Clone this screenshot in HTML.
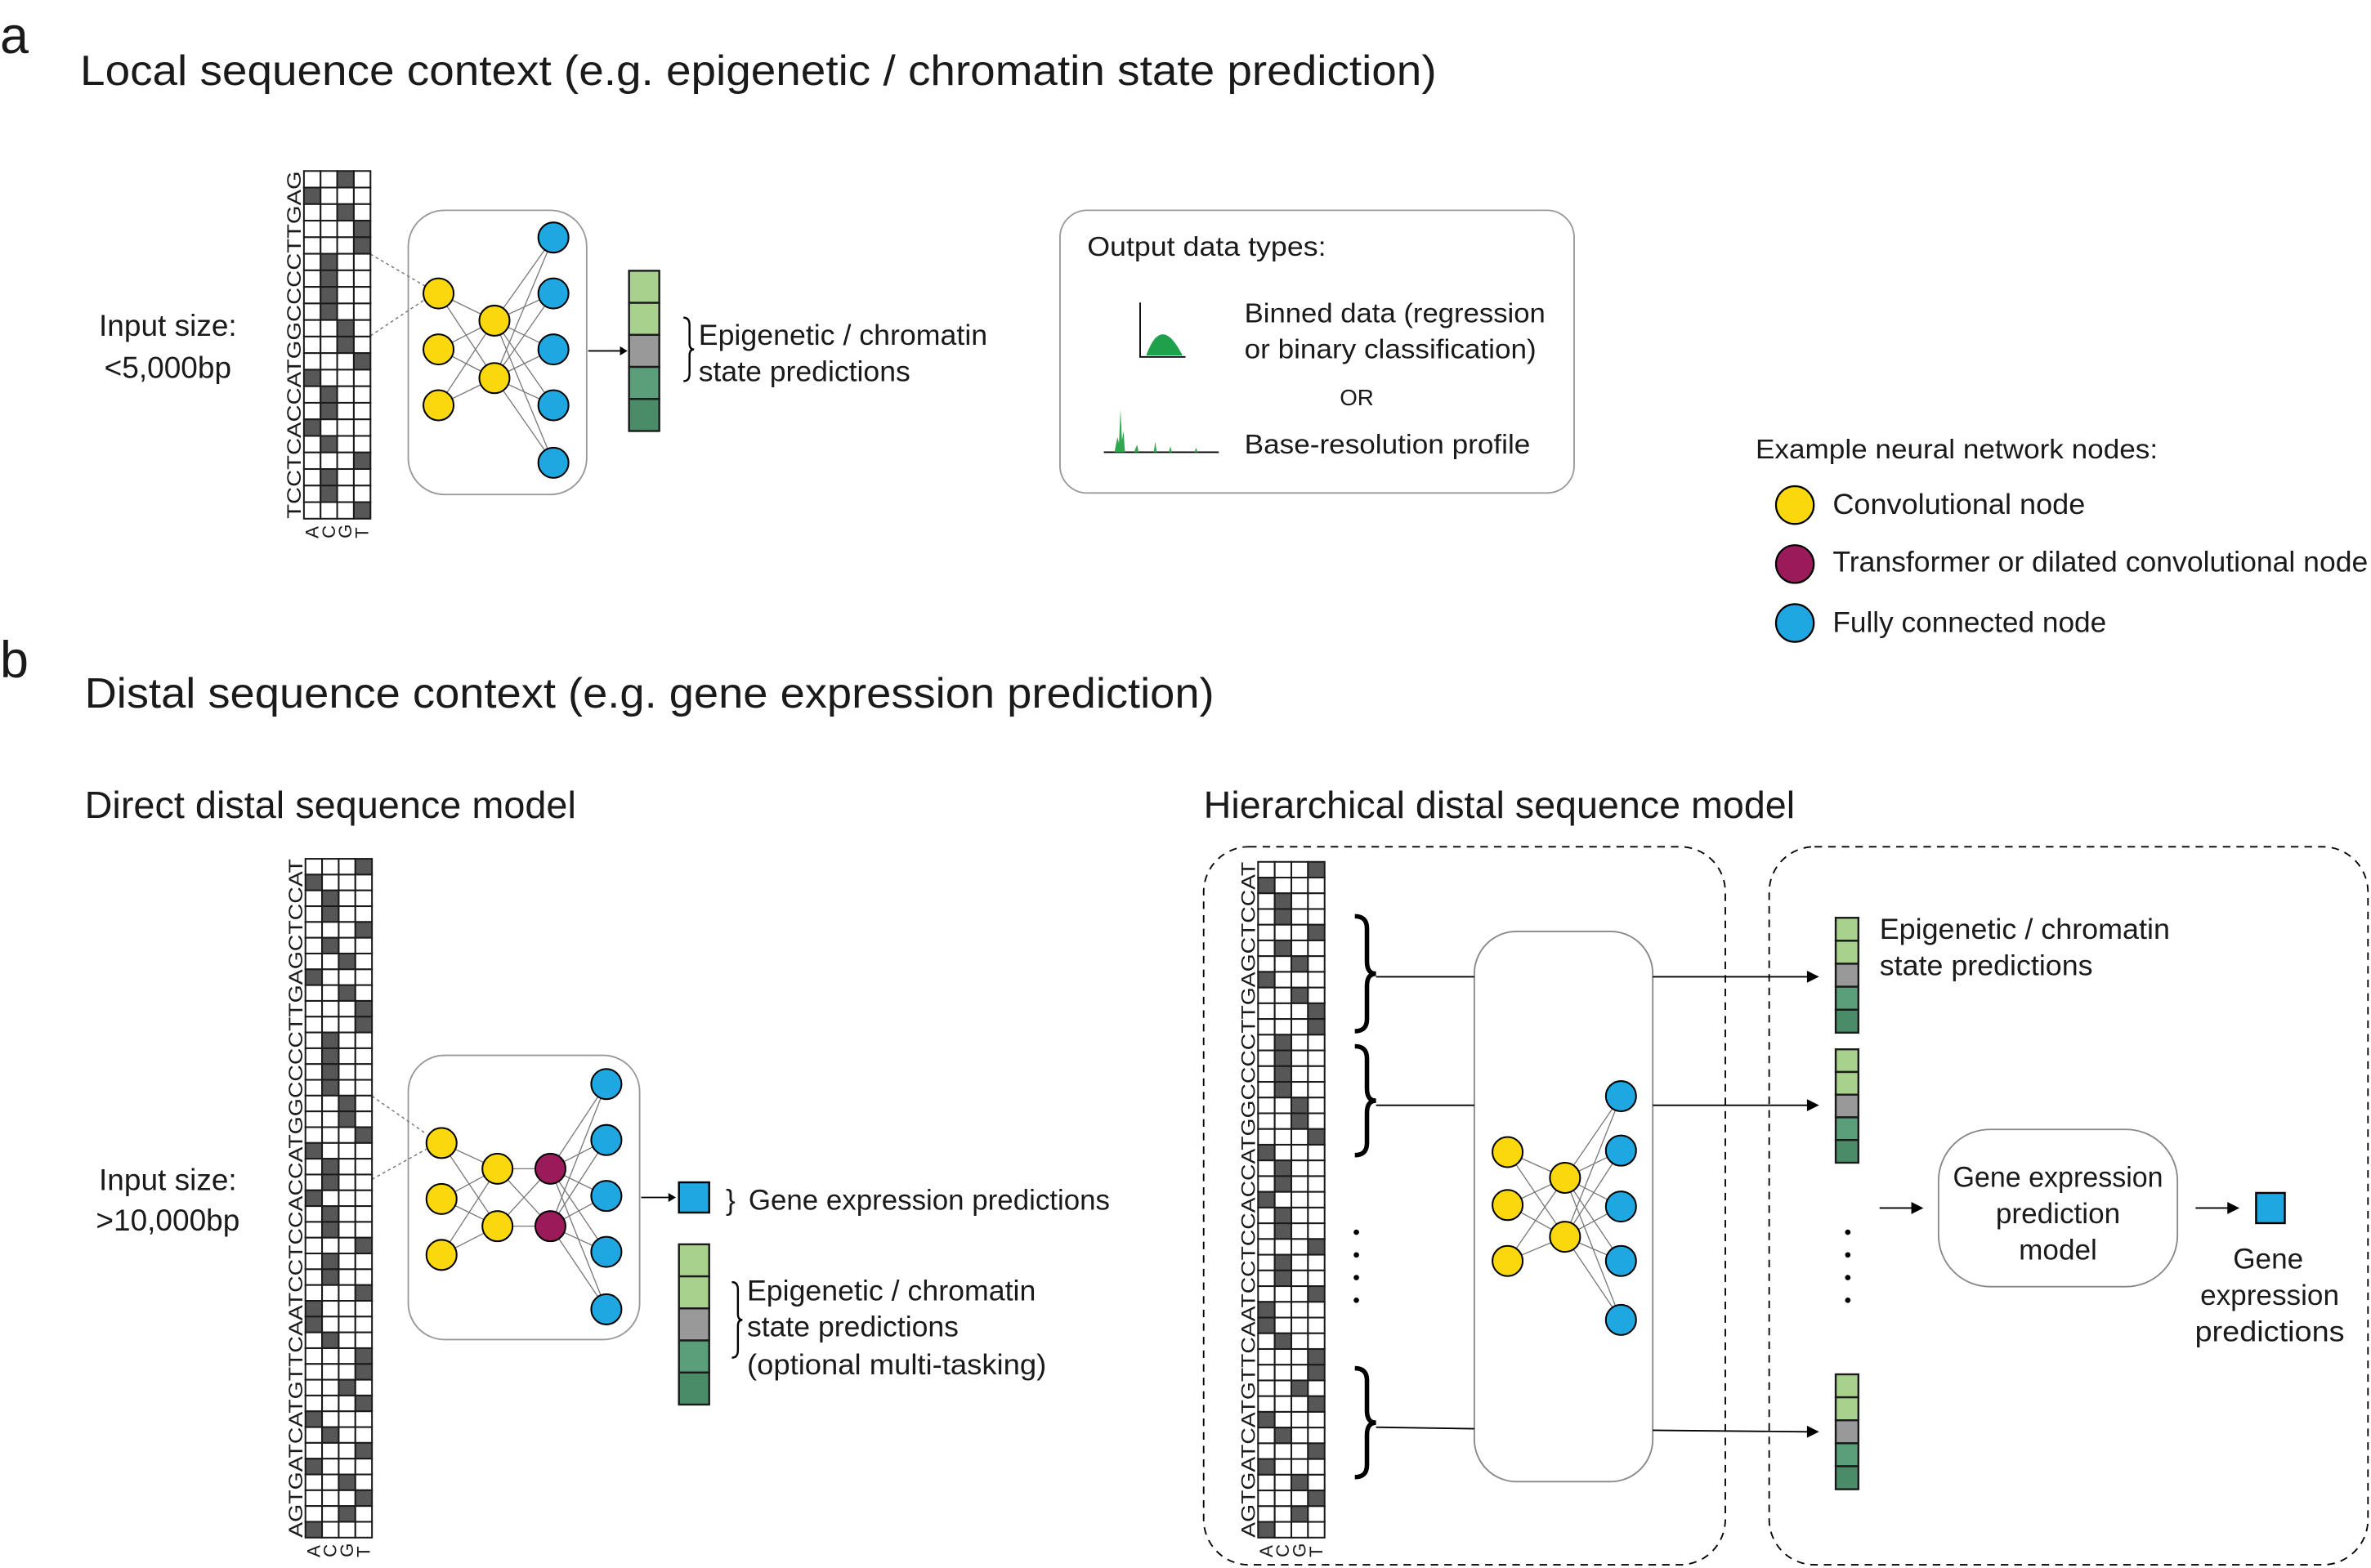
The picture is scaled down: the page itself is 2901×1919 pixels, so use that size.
<!DOCTYPE html>
<html><head><meta charset="utf-8"><style>
html,body{margin:0;padding:0;background:#fff}
svg{display:block}
text{font-family:"Liberation Sans",sans-serif;fill:#1a1a1a}
</style></head><body>
<svg id="s" width="2901" height="1919" viewBox="0 0 1568 1037" xmlns="http://www.w3.org/2000/svg">
<rect width="1568" height="1037" fill="#fff"/>
<!-- Titles -->
<text x="0" y="35" font-size="34">a</text>
<text x="53" y="56" font-size="28" textLength="897" lengthAdjust="spacingAndGlyphs">Local sequence context (e.g. epigenetic / chromatin state prediction)</text>
<text x="0" y="448" font-size="34">b</text>
<text x="56" y="468" font-size="28" textLength="747" lengthAdjust="spacingAndGlyphs">Distal sequence context (e.g. gene expression prediction)</text>
<text x="56" y="541" font-size="25" textLength="325" lengthAdjust="spacingAndGlyphs">Direct distal sequence model</text>
<text x="796" y="541" font-size="25" textLength="391" lengthAdjust="spacingAndGlyphs">Hierarchical distal sequence model</text>

<text x="111" y="222" font-size="20" text-anchor="middle">Input size:</text>
<text x="111" y="250" font-size="20" text-anchor="middle">&lt;5,000bp</text>
<text x="111" y="787" font-size="20" text-anchor="middle">Input size:</text>
<text x="111" y="814" font-size="20" text-anchor="middle">&gt;10,000bp</text>

<g id="grids"></g>
<g id="nets"></g>

<!-- panel a boxes -->
<rect x="270" y="139" width="118" height="188" rx="24" fill="none" stroke="#999" stroke-width="1"/>
<line x1="245" y1="168" x2="281" y2="189" stroke="#777" stroke-dasharray="2,2" stroke-width="0.8"/>
<line x1="245" y1="222" x2="281" y2="198" stroke="#777" stroke-dasharray="2,2" stroke-width="0.8"/>
<line x1="389" y1="232" x2="410" y2="232" stroke="#000" stroke-width="1"/>
<polygon points="410,229 415,232 410,235" fill="#000"/>
<g id="bara"></g>
<path d="M452,210 q4,0 4,5 v12 q0,4 3,4 q-3,0 -3,4 v12 q0,5 -4,5" fill="none" stroke="#000" stroke-width="1.3"/>
<text x="462" y="228" font-size="19" textLength="191" lengthAdjust="spacingAndGlyphs">Epigenetic / chromatin</text>
<text x="462" y="252" font-size="19" textLength="140" lengthAdjust="spacingAndGlyphs">state predictions</text>

<rect x="701" y="139" width="340" height="187" rx="18" fill="none" stroke="#999" stroke-width="1"/>
<text x="719" y="169" font-size="18" textLength="158" lengthAdjust="spacingAndGlyphs">Output data types:</text>
<text x="823" y="213" font-size="18" textLength="199" lengthAdjust="spacingAndGlyphs">Binned data (regression</text>
<text x="823" y="237" font-size="18" textLength="193" lengthAdjust="spacingAndGlyphs">or binary classification)</text>
<text x="886" y="268" font-size="15">OR</text>
<text x="823" y="300" font-size="18" textLength="189" lengthAdjust="spacingAndGlyphs">Base-resolution profile</text>
<path d="M754,200 V236 H784" fill="none" stroke="#000" stroke-width="1"/>
<path d="M758,235 q5,-14 11,-14 q6,0 13,14 z" fill="#1fa04a"/>
<path d="M730,299 H806" stroke="#000" stroke-width="1"/>
<path d="M737,299 l2,-10 l1,4 l1,-22 l1,20 l1,-6 l1,14 h6 l2,-5 l1,5 h10 l1,-7 l1,7 h8 l1,-4 l1,4 h15 l1,-3 l1,3 z" fill="#2fa84f"/>

<text x="1161" y="303" font-size="18" textLength="266" lengthAdjust="spacingAndGlyphs">Example neural network nodes:</text>
<circle cx="1187" cy="334" r="12.5" fill="#fbd80d" stroke="#000" stroke-width="1.2"/>
<circle cx="1187" cy="373" r="12.5" fill="#9b1b5a" stroke="#000" stroke-width="1.2"/>
<circle cx="1187" cy="412" r="12.5" fill="#1ea7e0" stroke="#000" stroke-width="1.2"/>
<text x="1212" y="340" font-size="19" textLength="167" lengthAdjust="spacingAndGlyphs">Convolutional node</text>
<text x="1212" y="378" font-size="19" textLength="354" lengthAdjust="spacingAndGlyphs">Transformer or dilated convolutional node</text>
<text x="1212" y="418" font-size="19" textLength="181" lengthAdjust="spacingAndGlyphs">Fully connected node</text>

<!-- panel b direct -->
<rect x="270" y="698" width="153" height="188" rx="24" fill="none" stroke="#999" stroke-width="1"/>
<line x1="246" y1="725" x2="282" y2="750" stroke="#777" stroke-dasharray="2,2" stroke-width="0.8"/>
<line x1="246" y1="780" x2="282" y2="760" stroke="#777" stroke-dasharray="2,2" stroke-width="0.8"/>
<line x1="424" y1="792" x2="442" y2="792" stroke="#000" stroke-width="1"/>
<polygon points="442,789 447,792 442,795" fill="#000"/>
<rect x="449" y="782" width="20" height="20" fill="#1ea7e0" stroke="#000" stroke-width="1.3"/>
<text x="480" y="800" font-size="19">}</text>
<text x="495" y="800" font-size="19" textLength="239" lengthAdjust="spacingAndGlyphs">Gene expression predictions</text>
<path d="M484,848 q4,0 4,5 v16 q0,4 3,4 q-3,0 -3,4 v16 q0,5 -4,5" fill="none" stroke="#000" stroke-width="1.3"/>
<text x="494" y="860" font-size="19" textLength="191" lengthAdjust="spacingAndGlyphs">Epigenetic / chromatin</text>
<text x="494" y="884" font-size="19" textLength="140" lengthAdjust="spacingAndGlyphs">state predictions</text>
<text x="494" y="909" font-size="19" textLength="198" lengthAdjust="spacingAndGlyphs">(optional multi-tasking)</text>

<!-- hierarchical -->
<rect x="796" y="560" width="345" height="475" rx="30" fill="none" stroke="#000" stroke-width="1" stroke-dasharray="5,4"/>
<rect x="1170" y="560" width="396" height="475" rx="30" fill="none" stroke="#000" stroke-width="1" stroke-dasharray="5,4"/>
<rect x="975" y="616" width="118" height="364" rx="28" fill="none" stroke="#888" stroke-width="1"/>
<g fill="none" stroke="#000" stroke-width="3">
<path d="M896,606 q8,0 8,8 v22 q0,8 6,8 q-6,0 -6,8 v22 q0,8 -8,8"/>
<path d="M896,692 q8,0 8,8 v20 q0,8 6,8 q-6,0 -6,8 v20 q0,8 -8,8"/>
<path d="M896,905 q8,0 8,8 v20 q0,8 6,8 q-6,0 -6,8 v20 q0,8 -8,8"/>
</g>
<g stroke="#000" stroke-width="1">
<line x1="910" y1="646" x2="975" y2="646"/>
<line x1="910" y1="731" x2="975" y2="731"/>
<line x1="910" y1="944" x2="975" y2="945"/>
<line x1="1093" y1="646" x2="1196" y2="646"/>
<line x1="1093" y1="731" x2="1196" y2="731"/>
<line x1="1093" y1="946" x2="1196" y2="947"/>
<line x1="1243" y1="799" x2="1265" y2="799"/>
<line x1="1452" y1="799" x2="1474" y2="799"/>
</g>
<g fill="#000">
<polygon points="1195,642 1203,646 1195,650"/>
<polygon points="1195,727 1203,731 1195,735"/>
<polygon points="1195,943 1203,947 1195,951"/>
<polygon points="1264,795 1272,799 1264,803"/>
<polygon points="1473,795 1481,799 1473,803"/>
<circle cx="897" cy="815" r="1.8"/><circle cx="897" cy="830" r="1.8"/><circle cx="897" cy="845" r="1.8"/><circle cx="897" cy="860" r="1.8"/>
<circle cx="1222" cy="815" r="1.8"/><circle cx="1222" cy="830" r="1.8"/><circle cx="1222" cy="845" r="1.8"/><circle cx="1222" cy="860" r="1.8"/>
</g>
<text x="1243" y="621" font-size="19" textLength="192" lengthAdjust="spacingAndGlyphs">Epigenetic / chromatin</text>
<text x="1243" y="645" font-size="19" textLength="141" lengthAdjust="spacingAndGlyphs">state predictions</text>
<rect x="1282" y="747" width="158" height="104" rx="34" fill="none" stroke="#888" stroke-width="1"/>
<text x="1361" y="785" font-size="19" text-anchor="middle" textLength="139" lengthAdjust="spacingAndGlyphs">Gene expression</text>
<text x="1361" y="809" font-size="19" text-anchor="middle">prediction</text>
<text x="1361" y="833" font-size="19" text-anchor="middle">model</text>
<rect x="1492" y="789" width="19" height="20" fill="#1ea7e0" stroke="#000" stroke-width="1.3"/>
<text x="1500" y="839" font-size="19" text-anchor="middle">Gene</text>
<text x="1501" y="863" font-size="19" text-anchor="middle">expression</text>
<text x="1501" y="887" font-size="19" text-anchor="middle" textLength="99" lengthAdjust="spacingAndGlyphs">predictions</text>
</svg>
<script>
var NS="http://www.w3.org/2000/svg",S=document.getElementById("s");
function el(t,a,p){var e=document.createElementNS(NS,t);for(var k in a)e.setAttribute(k,a[k]);(p||S).appendChild(e);return e;}
function grid(x,y,w,h,seq){
 var n=seq.length,rh=h/n,cw=w/4,cols="ACGT";
 for(var i=0;i<n;i++){var ch=seq[n-1-i];for(var c=0;c<4;c++){
  el("rect",{x:x+c*cw,y:y+i*rh,width:cw,height:rh,fill:cols[c]==ch?"#575757":"#fff",stroke:"#1a1a1a","stroke-width":1.1});}}
 var t=el("text",{x:0,y:0,"font-size":13,textLength:h,lengthAdjust:"spacingAndGlyphs",transform:"translate("+(x-2)+","+(y+h)+") rotate(-90)"});t.textContent=seq;
 for(var c=0;c<4;c++){var l=el("text",{x:0,y:0,"font-size":12,transform:"translate("+(x+c*cw+cw/2+4)+","+(y+h+13)+") rotate(-90)"});l.textContent=cols[c];}
}
grid(201,113,44,230,"TCCTCACCATGGCCCCTTGAG");
grid(202,568,44,449,"AGTGATCATGTTCAATCCTCCACCATGGCCCCTTGAGCTCCAT");
grid(832,570,44,447,"AGTGATCATGTTCAATCCTCCACCATGGCCCCTTGAGCTCCAT");
function bar(x,y,w,h){var c=["#a9d18e","#a9d18e","#999","#5b9e7a","#4b8c68"];for(var i=0;i<5;i++)el("rect",{x:x,y:y+i*h/5,width:w,height:h/5,fill:c[i],stroke:"#1a1a1a","stroke-width":1.3});}
bar(416,179,20,106);bar(449,823,20,106);bar(1214,607,15,76);bar(1214,694,15,75);bar(1214,909,15,76);
var Y="#fbd80d",M="#9b1b5a",B="#1ea7e0";
function net(layers,r){
 for(var l=0;l<layers.length-1;l++){var a=layers[l],b=layers[l+1];
  for(var i=0;i<a.ys.length;i++)for(var j=0;j<b.ys.length;j++)el("line",{x1:a.x,y1:a.ys[i],x2:b.x,y2:b.ys[j],stroke:"#777","stroke-width":0.7});}
 layers.forEach(function(L){L.ys.forEach(function(y){el("circle",{cx:L.x,cy:y,r:r,fill:L.c,stroke:"#000","stroke-width":1.1});});});
}
net([{x:290,ys:[194,231,268],c:Y},{x:327,ys:[212,250],c:Y},{x:366,ys:[157,194,231,268,306],c:B}],10);
net([{x:292,ys:[756,793,830],c:Y},{x:329,ys:[773,811],c:Y},{x:364,ys:[773,811],c:M},{x:401,ys:[717,754,791,828,866],c:B}],10);
net([{x:997,ys:[762,797,834],c:Y},{x:1035,ys:[779,818],c:Y},{x:1072,ys:[725,761,798,834,873],c:B}],10);
</script>
</body></html>
